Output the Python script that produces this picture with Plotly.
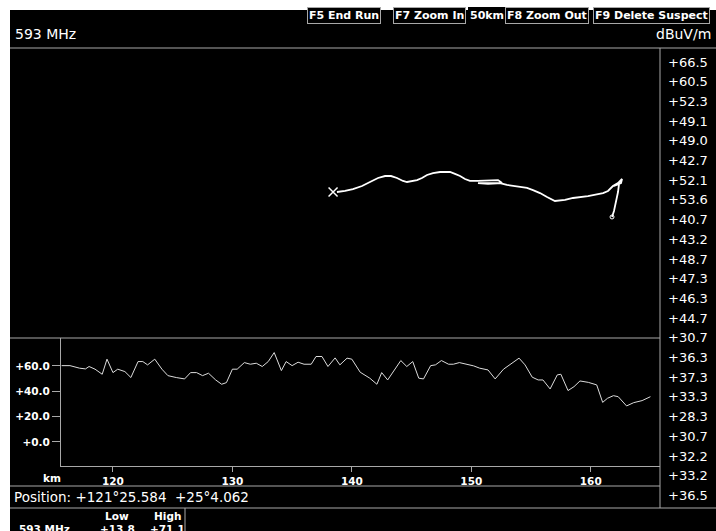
import plotly.graph_objects as go

W, H = 716, 531


def px(x):
    return x / W


def py(y):
    return 1 - y / H


# ---------------- data ----------------
freq_label = "593 MHz"
unit_label = "dBuV/m"
buttons = ["F5 End Run", "F7 Zoom In", "50km", "F8 Zoom Out", "F9 Delete Suspect"]
side_values = ["+66.5", "+60.5", "+52.3", "+49.1", "+49.0", "+42.7", "+52.1", "+53.6",
               "+40.7", "+43.2", "+48.7", "+47.3", "+46.3", "+44.7", "+30.7", "+36.3",
               "+37.3", "+33.3", "+28.3", "+30.7", "+32.2", "+33.2", "+36.5"]

route_km = [115.7, 116.4, 117.2, 117.7, 118.0, 118.5, 119.1, 119.5, 120.0, 120.4, 121.0,
            121.5, 122.1, 122.5, 122.9, 123.5, 124.1, 124.6, 125.3, 126.0, 126.5, 127.0,
            127.5, 128.0, 128.6, 129.1, 129.5, 130.0, 130.4, 131.0, 131.5, 132.0, 132.5,
            133.0, 133.5, 134.1, 134.5, 135.0, 135.5, 136.0, 136.6, 137.0, 137.5, 138.0,
            138.6, 139.0, 139.6, 140.0, 140.7, 141.5, 142.1, 142.5, 143.0, 144.1, 144.6,
            145.1, 145.6, 146.0, 146.6, 147.0, 147.5, 148.1, 148.5, 149.0, 150.2, 150.7,
            151.4, 152.0, 152.7, 153.2, 154.0, 154.5, 155.1, 155.6, 156.0, 156.6, 157.2,
            157.5, 158.1, 158.6, 159.1, 159.8, 160.5, 161.0, 161.4, 161.9, 162.3, 163.0,
            163.6, 164.3, 165.0]
route_level = [60.2, 60.2, 58.2, 57.6, 59.5, 57.4, 53.4, 65.3, 54.7, 57.4, 55.5, 50.8,
               63.4, 63.4, 60.8, 65.3, 57.4, 52.3, 50.8, 49.7, 54.7, 54.7, 52.3, 54.2,
               48.9, 45.5, 46.8, 57.4, 57.4, 62.6, 61.3, 62.1, 59.5, 63.4, 70.5, 56.3,
               63.4, 60.2, 62.9, 61.3, 61.3, 67.4, 67.4, 59.5, 66.3, 60.8, 66.1, 65.3,
               55.0, 50.3, 45.5, 54.7, 48.9, 64.2, 59.5, 63.4, 50.3, 49.7, 60.2, 60.8,
               64.2, 61.3, 61.3, 62.6, 60.0, 58.2, 56.8, 49.7, 57.4, 60.8, 66.1, 60.8,
               51.1, 48.9, 48.9, 41.8, 52.9, 53.4, 40.5, 43.6, 48.1, 47.0, 45.0, 31.2,
               34.4, 36.5, 35.7, 28.4, 31.0, 32.6, 35.7]

# drive track on the map (km east / km north inside the 50 km view)
track_east = [25.15, 25.77, 26.38, 27.08, 27.69, 28.31, 28.85, 29.31, 29.77, 30.23, 30.54,
              30.92, 31.31, 31.69, 32.08, 32.54, 33.08, 33.54, 33.85, 34.23, 34.62, 35.00,
              35.38, 36.00, 37.54, 37.85, 36.77, 36.00, 37.08, 37.69, 38.23, 38.69, 39.23,
              39.77, 40.23, 40.77, 41.31, 41.92, 42.69, 43.31, 44.46, 45.62, 46.00, 46.38,
              46.77, 47.08, 47.00, 46.46, 46.85, 46.77, 46.62, 46.46, 46.31]
track_north = [11.23, 11.31, 11.46, 11.69, 12.00, 12.31, 12.46, 12.46, 12.31, 12.08, 12.00,
               12.08, 12.15, 12.31, 12.54, 12.69, 12.77, 12.77, 12.77, 12.62, 12.46, 12.23,
               12.08, 12.08, 12.15, 11.92, 11.85, 11.92, 11.92, 11.92, 11.77, 11.69, 11.62,
               11.54, 11.38, 11.15, 10.85, 10.54, 10.62, 10.77, 10.92, 11.15, 11.31, 11.69,
               11.92, 12.23, 11.92, 11.69, 11.85, 11.23, 10.38, 9.77, 9.31]
start_east = [24.85]
start_north = [11.23]

level_ticks = [0, 20, 40, 60]
level_labels = ["+0.0", "+20.0", "+40.0", "+60.0"]
km_ticks = [120, 130, 140, 150, 160]
km_labels = ["120", "130", "140", "150", "160"]
position_text = "Position: +121°25.584  +25°4.062"
summary_header = ["Low", "High"]
summary_row = ["593 MHz", "+13.8", "+71.1"]

# ---------------- styling ----------------
FONT = "DejaVu Sans"
GRAY = "#a8a8a8"
WHITE = "#ffffff"

fig = go.Figure()

fig.add_trace(go.Scatter(x=track_east, y=track_north, mode="lines",
                         line=dict(color=WHITE, width=1.8), xaxis="x", yaxis="y",
                         hoverinfo="skip", showlegend=False))
fig.add_trace(go.Scatter(x=start_east, y=start_north, mode="markers",
                         marker=dict(symbol="x-thin-open", size=9, color=WHITE,
                                     line=dict(color=WHITE, width=1.5)),
                         xaxis="x", yaxis="y", hoverinfo="skip", showlegend=False))
fig.add_trace(go.Scatter(x=track_east[-1:], y=track_north[-1:], mode="markers",
                         marker=dict(symbol="circle-open", size=4, color=WHITE,
                                     line=dict(color=WHITE, width=1)),
                         xaxis="x", yaxis="y", hoverinfo="skip", showlegend=False))
fig.add_trace(go.Scatter(x=route_km, y=route_level, mode="lines",
                         line=dict(color="#dcdcdc", width=1), xaxis="x2", yaxis="y2",
                         hoverinfo="skip", showlegend=False))

shapes = [
    dict(type="rect", xref="paper", yref="paper", x0=px(10), x1=1, y0=0, y1=py(10),
         fillcolor="black", line=dict(width=0), layer="below"),
]


def hline(y, x0, x1):
    shapes.append(dict(type="line", xref="paper", yref="paper", x0=px(x0), x1=px(x1),
                       y0=py(y), y1=py(y), line=dict(color=GRAY, width=1)))


def vline(x, y0, y1):
    shapes.append(dict(type="line", xref="paper", yref="paper", x0=px(x), x1=px(x),
                       y0=py(y0), y1=py(y1), line=dict(color=GRAY, width=1)))


hline(48, 10, 716)
hline(338, 10, 660)
hline(486, 10, 660)
hline(508, 10, 716)
vline(660, 48, 508)
vline(185, 508, 531)

annotations = []
annotations.append(dict(text=freq_label, x=px(13), y=py(34), xref="paper", yref="paper",
                        xanchor="left", yanchor="middle", showarrow=False,
                        font=dict(family=FONT, size=14, color=WHITE)))
annotations.append(dict(text=unit_label, x=px(713), y=py(34), xref="paper", yref="paper",
                        xanchor="right", yanchor="middle", showarrow=False,
                        font=dict(family=FONT, size=14, color=WHITE)))

button_centers = [344, 429, 487, 547, 651]
for label, cx in zip(buttons, button_centers):
    boxed = label != "50km"
    annotations.append(dict(text=label, x=px(cx), y=py(16), xref="paper", yref="paper",
                            xanchor="center", yanchor="middle", showarrow=False,
                            font=dict(family=FONT, size=11, color=WHITE, weight="bold"),
                            bgcolor="black", bordercolor=GRAY if boxed else "black",
                            borderwidth=1, borderpad=1))

for i, v in enumerate(side_values):
    annotations.append(dict(text=v, x=px(710), y=py(62 + i * 19.7), xref="paper",
                            yref="paper", xanchor="right", yanchor="middle",
                            showarrow=False, font=dict(family=FONT, size=13, color=WHITE)))

annotations.append(dict(text="km", x=px(52), y=py(478), xref="paper", yref="paper",
                        xanchor="center", yanchor="middle", showarrow=False,
                        font=dict(family=FONT, size=10.5, color=WHITE, weight="bold")))
annotations.append(dict(text=position_text, x=px(12), y=py(497), xref="paper", yref="paper",
                        xanchor="left", yanchor="middle", showarrow=False,
                        font=dict(family=FONT, size=13.5, color=WHITE)))

for label, cx in zip(summary_header, [117, 167]):
    annotations.append(dict(text=label, x=px(cx), y=py(516), xref="paper", yref="paper",
                            xanchor="center", yanchor="middle", showarrow=False,
                            font=dict(family=FONT, size=10.5, color=WHITE, weight="bold")))
for label, cx in zip(summary_row, [44, 117, 167]):
    annotations.append(dict(text=label, x=px(cx), y=py(529), xref="paper", yref="paper",
                            xanchor="center", yanchor="middle", showarrow=False,
                            font=dict(family=FONT, size=10.5, color=WHITE, weight="bold")))

tickfont = dict(family=FONT, size=10.5, color=WHITE, weight="bold")

fig.update_layout(
    width=W, height=H,
    margin=dict(l=0, r=0, t=0, b=0),
    paper_bgcolor="white",
    plot_bgcolor="black",
    showlegend=False,
    shapes=shapes,
    annotations=annotations,
    xaxis=dict(domain=[px(10), px(660)], range=[0, 50], visible=False, anchor="y",
               fixedrange=True),
    yaxis=dict(domain=[py(338), py(48)], range=[0, 290 / 13], visible=False, anchor="x",
               fixedrange=True),
    xaxis2=dict(domain=[px(61), px(660)], range=[115.65, 165.8], anchor="y2",
                showline=True, linecolor=GRAY, linewidth=1, ticks="outside", ticklen=5,
                tickcolor=GRAY, tickvals=km_ticks, ticktext=km_labels, tickfont=tickfont,
                showgrid=False, zeroline=False, fixedrange=True),
    yaxis2=dict(domain=[py(466), py(338)], range=[-19, 82], anchor="x2",
                showline=True, linecolor=GRAY, linewidth=1, ticks="outside", ticklen=8,
                tickcolor=GRAY, tickvals=level_ticks, ticktext=level_labels,
                tickfont=tickfont, showgrid=False, zeroline=False, fixedrange=True),
)

fig.write_html("out.html", config={"displayModeBar": False},
               post_script="document.body.style.margin='0';document.body.style.overflow='hidden';")
